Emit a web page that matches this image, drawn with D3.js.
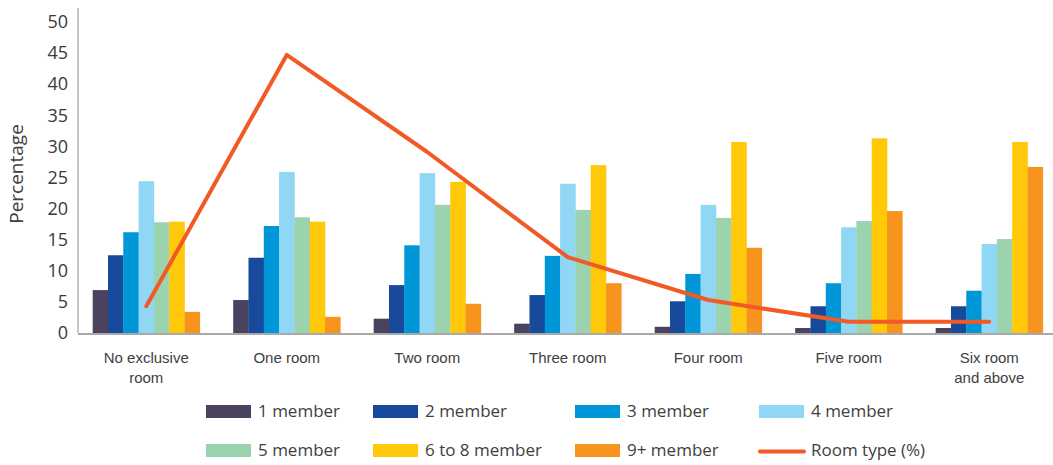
<!DOCTYPE html>
<html>
<head>
<meta charset="utf-8">
<script src="https://cdn.jsdelivr.net/npm/d3@7"></script>
<style>
  html, body { margin: 0; padding: 0; background: #fff; }
  svg { display: block; font-family: "Open Sans", "Noto Sans", sans-serif; }
</style>
</head>
<body>
<svg id="chart" width="1053" height="465"></svg>
<script>
// Room categories along the x axis (multi-line labels split on "\n")
const categories = [
  "No exclusive\nroom", "One room", "Two room", "Three room",
  "Four room", "Five room", "Six room\nand above"
];

// Household size series (percentage per room category)
const seriesNames = ["1 member", "2 member", "3 member", "4 member", "5 member", "6 to 8 member", "9+ member"];
const member1   = [6.9, 5.3, 2.3, 1.5, 1.0, 0.8, 0.8];
const member2   = [12.5, 12.1, 7.7, 6.1, 5.1, 4.3, 4.3];
const member3   = [16.2, 17.2, 14.1, 12.4, 9.5, 8.0, 6.8];
const member4   = [24.4, 25.9, 25.7, 24.0, 20.6, 17.0, 14.3];
const member5   = [17.8, 18.6, 20.6, 19.8, 18.5, 18.0, 15.1];
const member6to8 = [17.9, 17.9, 24.3, 27.0, 30.7, 31.3, 30.7];
const member9plus = [3.4, 2.6, 4.7, 8.0, 13.7, 19.6, 26.7];

// Share of households by room type (line)
const lineName = "Room type (%)";
const roomType = [4.3, 44.7, 29.1, 12.2, 5.3, 1.8, 1.8];

const yTicks = [0, 5, 10, 15, 20, 25, 30, 35, 40, 45, 50];

const colors = ["#4B425F", "#184A9B", "#0097D9", "#8FD7F5", "#9BD3AE", "#FFC90A", "#F7941D"];
const lineColor = "#F15A24";

const seriesValues = [member1, member2, member3, member4, member5, member6to8, member9plus];

const svg = d3.select("#chart");

const x0 = d3.scaleBand().domain(categories).range([76, 1059.5]).padding(0);
const x1 = d3.scaleBand().domain(seriesNames).range([0, x0.bandwidth()]).paddingInner(0).paddingOuter(1.09);
const y = d3.scaleLinear().domain([0, 50]).range([333, 22]);

// Bars
const groups = svg.append("g")
  .selectAll("g")
  .data(categories)
  .join("g")
  .attr("transform", d => `translate(${x0(d)},0)`);

groups.selectAll("rect")
  .data((c, i) => seriesNames.map((s, j) => ({ s, j, v: seriesValues[j][i] })))
  .join("rect")
  .attr("x", d => x1(d.s))
  .attr("width", x1.bandwidth() + 0.3)
  .attr("y", d => y(d.v))
  .attr("height", d => y(0) - y(d.v))
  .attr("fill", d => colors[d.j]);

// Y axis
const yAxis = svg.append("g")
  .attr("transform", "translate(78,0)")
  .call(d3.axisLeft(y).tickValues(yTicks).tickSize(0).tickPadding(10));
yAxis.select(".domain").attr("stroke", "#b3b3b3").attr("stroke-width", 1.5)
  .attr("d", `M0,${8}V${y(0)}`);
yAxis.selectAll("text")
  .attr("font-size", 18)
  .attr("fill", "#3a3a3a")
  .attr("font-family", "'Open Sans', sans-serif");

// X axis baseline
svg.append("line")
  .attr("x1", 78).attr("x2", 1053)
  .attr("y1", y(0) + 1).attr("y2", y(0) + 1)
  .attr("stroke", "#a9a9a9").attr("stroke-width", 2);

// Category labels
const xAxis = svg.append("g").attr("transform", `translate(0,${y(0)})`)
  .call(d3.axisBottom(x0).tickSize(0).tickFormat(""));
xAxis.select(".domain").remove();
xAxis.selectAll(".tick").each(function(d) {
  const t = d3.select(this).append("text")
    .attr("text-anchor", "middle")
    .attr("fill", "#404040")
    .attr("font-size", 15)
    .attr("y", 30);
  d.split("\n").forEach((line, k) => {
    t.append("tspan").attr("x", 0).attr("dy", k === 0 ? 0 : 20).text(line);
  });
});

// Y axis title
svg.append("text")
  .attr("transform", `translate(23,${174}) rotate(-90)`)
  .attr("text-anchor", "middle")
  .attr("font-size", 19)
  .attr("fill", "#404040")
  .text("Percentage");

// Room type line
const line = d3.line()
  .x((d, i) => x0(categories[i]) + x0.bandwidth() / 2)
  .y(d => y(d));
svg.append("path")
  .datum(roomType)
  .attr("d", line)
  .attr("fill", "none")
  .attr("stroke", lineColor)
  .attr("stroke-width", 4)
  .attr("stroke-linejoin", "round")
  .attr("stroke-linecap", "round");

// Legend
const legendItems = seriesNames.map((s, j) => ({ name: s, color: colors[j], type: "bar" }))
  .concat([{ name: lineName, color: lineColor, type: "line" }]);
const legendX = [206, 373, 575, 759];
const legendY = [411.5, 450.5];

const legend = svg.append("g")
  .selectAll("g")
  .data(legendItems)
  .join("g")
  .attr("transform", (d, i) => `translate(${legendX[i % 4]},${legendY[Math.floor(i / 4)]})`);

legend.each(function(d) {
  const g = d3.select(this);
  if (d.type === "bar") {
    g.append("rect").attr("x", 0).attr("y", -6.5).attr("width", 45).attr("height", 13).attr("fill", d.color);
  } else {
    g.append("line").attr("x1", 1).attr("x2", 45).attr("y1", 1).attr("y2", 1)
      .attr("stroke", d.color).attr("stroke-width", 4).attr("stroke-linecap", "round");
  }
  g.append("text")
    .attr("x", 52)
    .attr("y", 0)
    .attr("dy", "0.35em")
    .attr("font-size", 17)
    .attr("fill", "#404040")
    .text(d.name);
});
</script>
</body>
</html>
